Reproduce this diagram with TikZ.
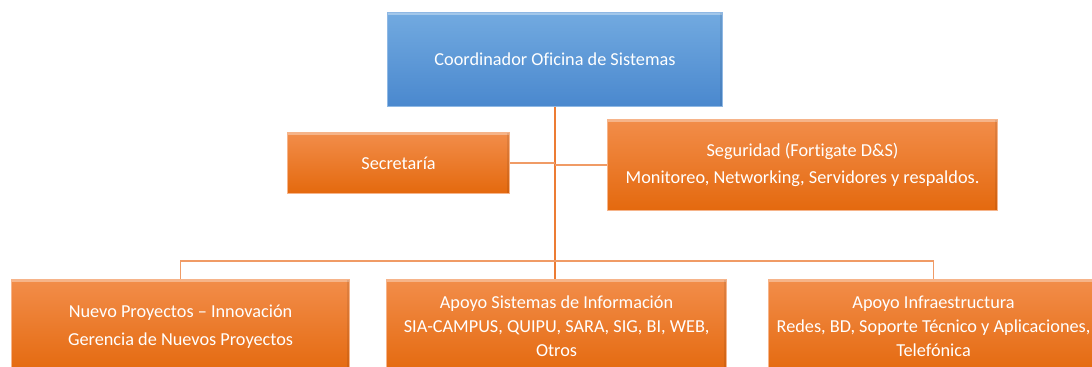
\documentclass[tikz,border=0pt]{standalone}
\usepackage{fontspec}
\setmainfont{Carlito}[Ligatures={NoCommon}]
\usetikzlibrary{calc}
\definecolor{blueTop}{HTML}{72AAE0}
\definecolor{blueBot}{HTML}{4A88CE}
\definecolor{blueEdge}{HTML}{8FB8E4}
\definecolor{orTop}{HTML}{F28D4A}
\definecolor{orBot}{HTML}{E4690E}
\definecolor{orEdge}{HTML}{F6B48A}
\definecolor{lineOr}{HTML}{EC7C34}
\definecolor{busOr}{HTML}{F09B66}
\tikzset{
  box/.style={anchor=north west, inner sep=0pt, align=center, text=white,
    font=\fontsize{13.7}{18}\selectfont, draw=orEdge, line width=0.8pt,
    top color=orTop, bottom color=orBot,
    path picture={
      \fill[white, opacity=0.35] (path picture bounding box.north west) rectangle ([yshift=-2.2pt]path picture bounding box.north east);
      \fill[black, opacity=0.08] (path picture bounding box.north east) rectangle ([xshift=-2.2pt]path picture bounding box.south east);
    }},
  twoline/.style={font=\fontsize{13.7}{20.5}\selectfont},
  bluebox/.style={box, draw=blueEdge, top color=blueTop, bottom color=blueBot},
  mainline/.style={draw=lineOr, line width=1.5pt},
  subline/.style={draw=busOr, line width=1pt},
}
\begin{document}
\begin{tikzpicture}[x=0.75pt,y=-0.75pt]
\useasboundingbox (0,0) rectangle (1092,367);
\clip (0,0) rectangle (1092,367);
\fill[white] (0,0) rectangle (1092,367);
\node[bluebox, minimum width=251.25pt, minimum height=70.5pt] (top) at (387,12) {Coordinador Oficina de Sistemas};
\node[box, minimum width=166.5pt, minimum height=45.75pt] (sec) at (287,132) {Secretaría};
\node[box, twoline, minimum width=292.5pt, minimum height=68.25pt] (seg) at (607,119) {Seguridad (Fortigate D\&S)\\Monitoreo, Networking, Servidores y respaldos.};
\node[box, twoline, minimum width=253.5pt, minimum height=70.5pt] (b1) at (11,279) {Nuevo Proyectos – Innovación\\Gerencia de Nuevos Proyectos};
\node[box, minimum width=255pt, minimum height=70.5pt] (b2) at (386,279) {Apoyo Sistemas de Información\\SIA-CAMPUS, QUIPU, SARA, SIG, BI, WEB,\\Otros};
\node[box, minimum width=247.5pt, minimum height=70.5pt] (b3) at (768,279) {Apoyo Infraestructura\\Redes, BD, Soporte Técnico y Aplicaciones,\\Telefónica};
\coordinate (bus) at ($(top.south)+(0,154)$);
\draw[mainline] (top.south) -- (top.south |- b2.north);
\draw[subline] (b1.north) |- (bus) -| (b3.north);
\draw[subline] (sec.east) -- (sec.east -| top.south);
\draw[subline] (seg.west) -- (seg.west -| top.south);
\end{tikzpicture}
\end{document}
